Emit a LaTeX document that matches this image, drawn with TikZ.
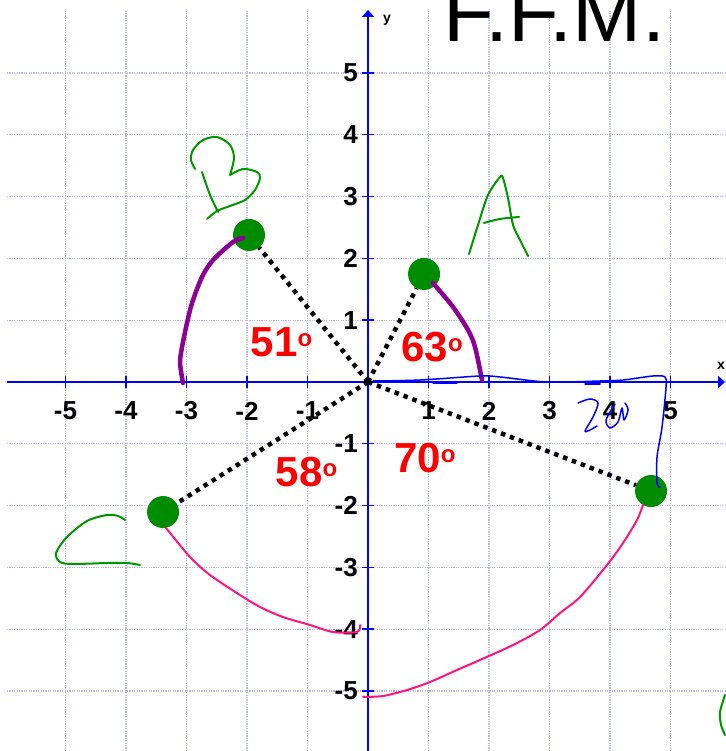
\documentclass[tikz,border=0pt]{standalone}
\usepackage{fontspec}
\setmainfont{Liberation Sans}
\usepackage{tikz}
\usetikzlibrary{arrows.meta}
\definecolor{gridblue}{RGB}{185,185,255}
\definecolor{ptgreen}{RGB}{0,140,0}
\definecolor{inkgreen}{RGB}{0,150,0}
\definecolor{arcpurple}{RGB}{140,0,150}
\definecolor{inkpink}{RGB}{255,20,130}

\begin{document}
\begin{tikzpicture}[
  x=60.5pt, y=61.8pt,
  gridln/.style={gridblue, line width=1.2pt, dash pattern=on 1.2pt off 1.2pt},
  axisln/.style={blue, line width=2.2pt, -{Triangle[length=7pt,width=12pt]}},
  tick/.style={blue, line width=1.4pt},
  tlab/.style={font=\fontsize{26}{26}\selectfont\bfseries, inner sep=0},
  axlab/.style={font=\fontsize{14}{14}\selectfont\bfseries, inner sep=0},
  dot/.style={circle, fill=ptgreen, minimum size=32pt, inner sep=0},
  ray/.style={line width=4.5pt, dash pattern=on 4.5pt off 5pt},
  ang/.style={text=red, font=\fontsize{42}{42}\selectfont\bfseries, anchor=base west, inner sep=0},
  arcp/.style={arcpurple, line width=4.5pt, line cap=round},
  pinkln/.style={inkpink, line width=2pt, line cap=round},
  hand/.style={inkgreen, line width=2pt, line cap=round, line join=round},
  bluehand/.style={blue, line width=1.5pt, line cap=round, line join=round}]
\useasboundingbox (-6.083,-5.971) rectangle (5.901,6.181);
\foreach \i in {-5,...,5} {
  \draw[gridln] (\i,-5.971) -- (\i,6.02);
  \draw[gridln] (-5.967,\i) -- (5.901,\i);
}
\draw[axisln] (-5.967,0) -- (5.901,0);
\draw[axisln] (0,-5.971) -- (0,6.02);
\foreach \i in {-5,...,-1,1,2,...,5} {
  \draw[tick] (\i,-0.1) -- (\i,0.1);
  \draw[tick] (-0.1,\i) -- (0.1,\i);
  \node[tlab] (xl\i) at (\i,-0.47) {\i};
  \node[tlab, anchor=east] (yl\i) at (-0.165,\i) {\i};
}
\node[axlab] (xlab) at (5.835,0.259) {x};
\node[axlab] (ylab) at (0.314,5.858) {y};
\node[font=\fontsize{83}{83}\selectfont, anchor=base west, inner sep=0] (ttl) at (1.248,5.502) {F.F.M.};
\coordinate (O) at (0,0);
\node[dot] (A) at (0.926,1.748) {};
\node[dot] (B) at (-1.967,2.379) {};
\node[dot] (C) at (-3.388,-2.104) {};
\node[dot] (D) at (4.678,-1.764) {};
\foreach \p in {A,B,C,D} \draw[ray] (O) -- (\p);
\draw[arcp] plot[smooth] coordinates {(-2.066,2.330) (-2.231,2.265) (-2.562,1.974) (-2.744,1.699) (-2.909,1.278) (-2.992,0.955) (-3.074,0.566) (-3.107,0.307) (-3.058,-0.016)};
\draw[arcp] plot[smooth] coordinates {(1.074,1.602) (1.405,1.214) (1.653,0.841) (1.769,0.566) (1.884,0.032)};
\draw[pinkln] plot[smooth] coordinates {(-3.339,-2.362) (-2.942,-2.832) (-2.612,-3.123) (-2.116,-3.447) (-1.785,-3.641) (-1.405,-3.803) (-0.959,-3.932) (-0.579,-4.045) (-0.182,-4.045) (-0.132,-3.932)};
\draw[pinkln] plot[smooth] coordinates {(-0.083,-5.097) (0.248,-5.081) (0.645,-4.984) (1.025,-4.854) (1.471,-4.660) (1.851,-4.498) (2.397,-4.256) (2.843,-4.013) (3.174,-3.738) (3.504,-3.479) (3.950,-2.961) (4.215,-2.605) (4.446,-2.233) (4.545,-1.990)};
\node[ang] (a51) at (-1.940,0.405) {51\raisebox{10pt}{\fontsize{24}{24}\selectfont o}};
\node[ang] (a63) at (0.550,0.324) {63\raisebox{10pt}{\fontsize{24}{24}\selectfont o}};
\node[ang] (a58) at (-1.526,-1.699) {58\raisebox{10pt}{\fontsize{24}{24}\selectfont o}};
\node[ang] (a70) at (0.430,-1.472) {70\raisebox{10pt}{\fontsize{24}{24}\selectfont o}};
\draw[hand] plot[smooth] coordinates {(-2.860,3.447) (-2.926,3.592) (-2.893,3.754) (-2.727,3.916) (-2.496,3.964) (-2.281,3.835) (-2.215,3.625) (-2.281,3.350)} -- plot[smooth] coordinates {(-2.281,3.350) (-2.066,3.447) (-1.835,3.398) (-1.785,3.301) (-1.868,3.107) (-2.033,2.945) (-2.281,2.848) (-2.496,2.767) (-2.661,2.638)};
\draw[hand] plot[smooth] coordinates {(-2.744,3.398) (-2.612,3.026) (-2.479,2.751)};
\draw[hand] plot[smooth] coordinates {(1.669,2.071) (1.818,2.540) (1.983,3.026) (2.182,3.317) (2.231,3.301) (2.314,2.977) (2.397,2.540) (2.512,2.298) (2.645,2.039)};
\draw[hand] plot[smooth] coordinates {(1.917,2.573) (2.182,2.638) (2.496,2.670)};
\draw[hand] plot[smooth] coordinates {(-4.017,-2.233) (-4.132,-2.168) (-4.314,-2.152) (-4.645,-2.249) (-4.975,-2.508) (-5.157,-2.767) (-5.091,-2.913) (-4.876,-2.945) (-4.314,-2.929) (-3.983,-2.929) (-3.769,-2.961)};
\draw[hand] plot[smooth] coordinates {(5.901,-5.065) (5.818,-5.340) (5.835,-5.550) (5.901,-5.712)};
\draw[bluehand] plot[smooth] coordinates {(0.083,0.016) (0.860,0.032) (1.851,0.097) (2.182,0.081) (2.959,0) (3.835,0.016) (4.215,0.032) (4.711,0.097) (4.909,0.081) (4.926,-0.081) (4.860,-0.728) (4.777,-1.214) (4.777,-1.634) (4.826,-1.699)};
\draw[bluehand] (1.074,-0.016) -- (1.471,-0.016);
\draw[bluehand] (3.587,-0.032) -- (3.835,-0.032);
\draw[bluehand] plot[smooth] coordinates {(3.471,-0.340) (3.669,-0.275) (3.802,-0.340) (3.719,-0.566) (3.587,-0.793) (3.669,-0.777) (3.785,-0.712)};
\draw[bluehand] plot[smooth] coordinates {(4.083,-0.356) (3.934,-0.615) (4.000,-0.744) (4.132,-0.647) (4.198,-0.421) (4.231,-0.615) (4.298,-0.453) (4.248,-0.340)};
\end{tikzpicture}
\end{document}
